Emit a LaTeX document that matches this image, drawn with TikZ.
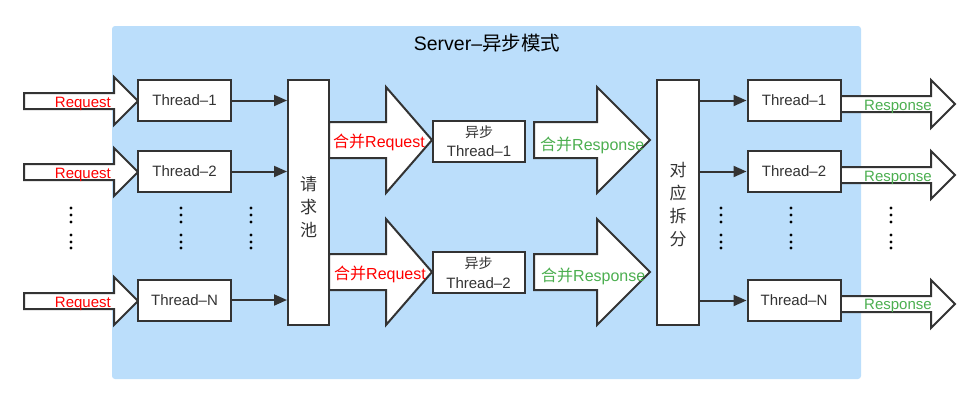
\documentclass[tikz,border=0pt]{standalone}
\usepackage{fontspec}
\setmainfont{Liberation Sans}
\newfontfamily\cjk{Noto Sans CJK SC}
\usetikzlibrary{arrows.meta}
\definecolor{bgblue}{RGB}{187,222,251}
\definecolor{lnc}{RGB}{51,51,51}
\definecolor{rspg}{RGB}{76,175,80}
\definecolor{rqr}{RGB}{255,0,0}
\newcommand\blkarrow[6]{% x-left, x-headbase, x-tip, y-center, shaft half, head half
  \draw[blk] (#1,#4-#5) -- (#2,#4-#5) -- (#2,#4-#6) -- (#3,#4) -- (#2,#4+#6) -- (#2,#4+#5) -- (#1,#4+#5) -- cycle;}
\tikzset{
  boxed/.style={draw=lnc, fill=white, line width=2pt, inner sep=0pt, text=lnc},
  thr/.style={boxed, minimum width=93pt, minimum height=41pt, font=\fontsize{15}{18}\selectfont},
  async/.style={boxed, minimum width=92pt, minimum height=41pt, align=center, font=\fontsize{15}{19.5}\selectfont},
  tall/.style={boxed, minimum width=41pt, minimum height=245pt},
  vtxt/.style={align=center, text=lnc, inner sep=0pt, font=\cjk\fontsize{17}{23}\selectfont},
  blk/.style={draw=lnc, fill=white, line width=2pt, line join=miter},
  conn/.style={draw=lnc, line width=2pt, -{Triangle[length=13pt,width=11pt]}},
  lbl/.style={inner sep=0pt, font=\fontsize{15}{18}\selectfont},
  mlbl/.style={inner sep=0pt, anchor=base west, font=\fontsize{16}{19}\selectfont},
}
\begin{document}
\begin{tikzpicture}[x=1pt, y=-1pt]
\useasboundingbox (0,0) rectangle (980,405);
% background
\fill[bgblue, rounded corners=3pt] (112,26) rectangle (861,379);
\node[inner sep=0pt, text=black, font=\fontsize{19.5}{22}\selectfont] (title) at (487,43) {Server–{\cjk 异步模式}};

% input block arrows
\blkarrow{24}{114}{138}{101}{8}{24}
\blkarrow{24}{114}{138}{172}{8}{24}
\blkarrow{24}{114}{138}{301}{8}{24}
% output block arrows
\blkarrow{840}{931}{955}{104}{8}{24}
\blkarrow{840}{931}{955}{175}{8}{24}
\blkarrow{840}{931}{955}{304}{8}{24}
% merged arrows
\blkarrow{329}{386}{432}{140}{18}{53}
\blkarrow{329}{386}{432}{272}{18}{53}
\blkarrow{534}{597}{650}{140}{18}{53}
\blkarrow{534}{597}{650}{272}{18}{53}

% left thread boxes
\node[thr] (lt1) at (184.5,100.5) {Thread–1};
\node[thr] (lt2) at (184.5,171.5) {Thread–2};
\node[thr] (ltn) at (184.5,300) {Thread–N};
% request pool
\node[tall] (pool) at (308.5,202.5) {};
\node[vtxt] (pooltxt) at (308.5,207) {请\\求\\池};
% async boxes
\node[async] (as1) at (479,141) {{\cjk\fontsize{14}{19.5}\selectfont 异步}\\Thread–1};
\node[async] (as2) at (478.5,272.5) {{\cjk\fontsize{14}{19.5}\selectfont 异步}\\Thread–2};
% split box
\node[tall, minimum width=42pt] (split) at (678,202.5) {};
\node[vtxt] (splittxt) at (678,205) {对\\应\\拆\\分};
% right thread boxes
\node[thr] (rt1) at (794,100.5) {Thread–1};
\node[thr] (rt2) at (794,171.5) {Thread–2};
\node[thr] (rtn) at (794,300.5) {Thread–N};

% connectors
\draw[conn] (lt1.east) -- (lt1.east -| pool.west);
\draw[conn] (lt2.east) -- (lt2.east -| pool.west);
\draw[conn] (ltn.east) -- (ltn.east -| pool.west);
\draw[conn] (rt1.west -| split.east) -- (rt1.west);
\draw[conn] (rt2.west -| split.east) -- (rt2.west);
\draw[conn] (rtn.west -| split.east) -- (rtn.west);

% labels
\node[lbl, text=rqr, anchor=base east] (rq1) at (111,107.3) {Request};
\node[lbl, text=rqr, anchor=base east] (rq2) at (111,178.3) {Request};
\node[lbl, text=rqr, anchor=base east] (rqn) at (111,307) {Request};
\node[lbl, text=rspg, anchor=base west] (rs1) at (864,110) {Response};
\node[lbl, text=rspg, anchor=base west] (rs2) at (864,181) {Response};
\node[lbl, text=rspg, anchor=base west] (rsn) at (864,309.5) {Response};
\node[mlbl, text=rqr] (mrq1) at (333,147.3) {{\cjk 合并}Request};
\node[mlbl, text=rqr] (mrq2) at (334,279) {{\cjk 合并}Request};
\node[mlbl, text=rspg] (mrs1) at (540,150) {{\cjk 合并}Response};
\node[mlbl, text=rspg] (mrs2) at (541,281) {{\cjk 合并}Response};

% ellipsis dots
\foreach \x in {71,181,251,721,791,891}
  \foreach \y in {208,215,222,235,242,248}
    \fill[black] (\x,\y) circle (1.6pt);
\end{tikzpicture}
\end{document}
